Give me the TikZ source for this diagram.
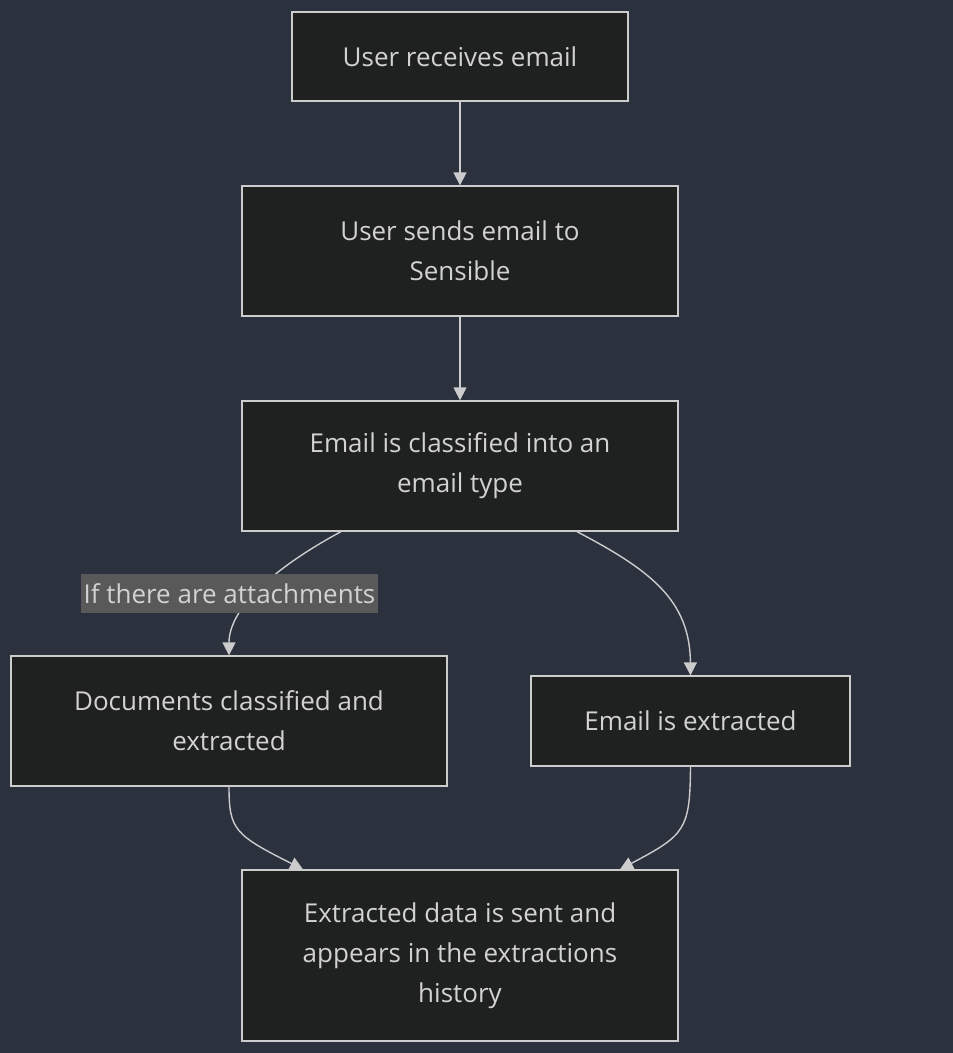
\documentclass[tikz,border=0pt]{standalone}
\usepackage{fontspec}
\setmainfont{Open Sans}
\usetikzlibrary{arrows.meta}
\definecolor{bgc}{HTML}{2C313E}
\definecolor{boxc}{HTML}{1F2020}
\definecolor{linec}{HTML}{CCCCCC}
\definecolor{txtc}{HTML}{D2D2D2}
\definecolor{lblc}{HTML}{595959}
\tikzset{
  flowbox/.style={draw=linec, fill=boxc, line width=1.3pt, text=txtc, align=center,
    font=\fontsize{26}{40}\selectfont, inner sep=0pt},
  conn/.style={draw=linec, line width=1.4pt, -{Triangle[length=13pt,width=13pt]}},
  edgelabel/.style={fill=lblc, text=txtc, font=\fontsize{26}{30}\selectfont, inner sep=0pt,
    minimum width=297pt, minimum height=39pt}
}
\begin{document}
\begin{tikzpicture}[x=1pt,y=-1pt]
\fill[bgc] (0,0) rectangle (953,1053);
\useasboundingbox (0,0) rectangle (953,1053);
\node[flowbox, minimum width=336pt, minimum height=89pt] (b1) at (460,56.5) {User receives email};
\node[flowbox, minimum width=436pt, minimum height=130pt] (b2) at (460,251) {User sends email to\\Sensible};
\node[flowbox, minimum width=436pt, minimum height=130pt] (b3) at (460,466) {Email is classified into an\\email type};
\node[flowbox, minimum width=436pt, minimum height=130pt] (b4) at (229,721) {Documents classified and\\extracted};
\node[flowbox, minimum width=319pt, minimum height=90pt] (b5) at (690.5,721) {Email is extracted};
\node[flowbox, minimum width=436pt, minimum height=171pt] (b6) at (460,955.5) {Extracted data is sent and\\appears in the extractions\\history};
\draw[conn] (b1.south) -- (b2.north);
\draw[conn] (b2.south) -- (b3.north);
\draw[conn] ([xshift=-119pt]b3.south) .. controls (270,570) and (229,610) .. (b4.north);
\draw[conn] ([xshift=117pt]b3.south) .. controls (650,570) and (690,600) .. (b5.north);
\draw[conn] (b4.south) .. controls (229,830) and (235,835) .. ([xshift=-157pt]b6.north);
\draw[conn] (b5.south) .. controls (690,830) and (685,835) .. ([xshift=160pt]b6.north);
\node[edgelabel] (lbl) at (229.5,593.5) {If there are attachments};
\end{tikzpicture}
\end{document}
